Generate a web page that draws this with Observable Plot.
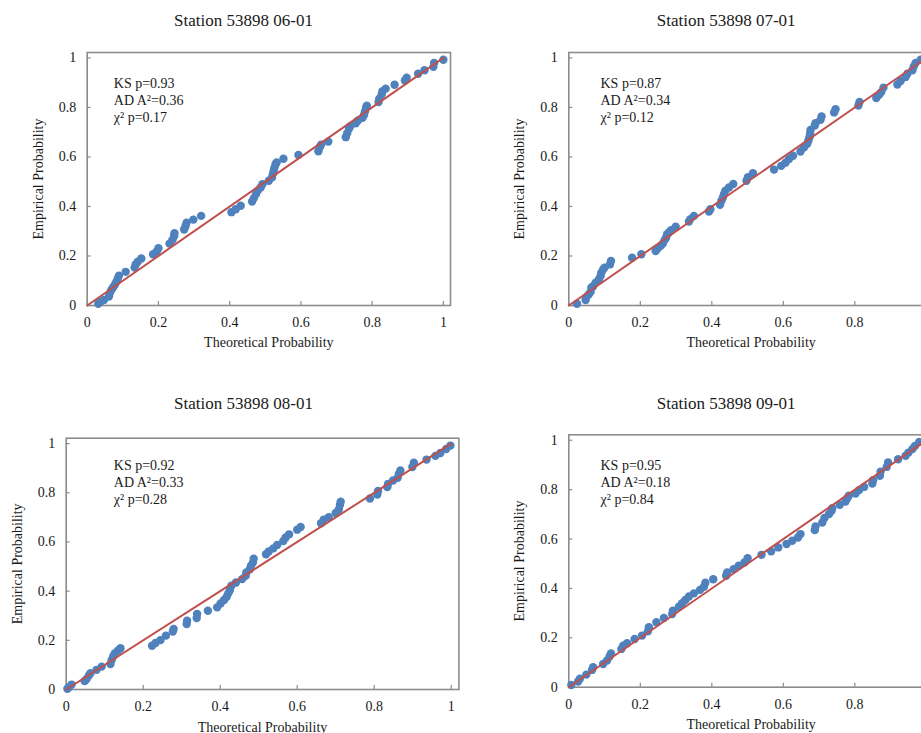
<!DOCTYPE html>
<html><head><meta charset="utf-8">
<script src="https://cdn.jsdelivr.net/npm/d3@7"></script>
<script src="https://cdn.jsdelivr.net/npm/@observablehq/plot@0.6"></script>
<style>
html,body{margin:0;padding:0;background:#fff;}
#root{position:relative;width:921px;height:733px;overflow:hidden;background:#fff;font-family:"Liberation Serif","Times New Roman",serif;}
#root svg{position:absolute;}
#root svg text{font-family:"Liberation Serif","Times New Roman",serif !important;}
</style></head><body><div id="root"></div>
<script>
// ---- data ----
const tickValues = [0, 0.2, 0.4, 0.6, 0.8, 1];
const refLine = [0, 1];
const titles = ["Station 53898 06-01", "Station 53898 07-01", "Station 53898 08-01", "Station 53898 09-01"];
const ksP = ["0.93", "0.87", "0.92", "0.95"];
const adA2 = ["0.36", "0.34", "0.33", "0.18"];
const chiP = ["0.17", "0.12", "0.28", "0.84"];
const xLabel = "Theoretical Probability";
const yLabel = "Empirical Probability";

const theo0601 = [0.031,0.037,0.047,0.061,0.064,0.068,0.073,0.078,0.082,0.086,0.089,0.108,0.133,0.136,0.142,0.152,0.185,0.195,0.2,0.231,0.239,0.244,0.245,0.272,0.276,0.279,0.298,0.32,0.405,0.417,0.431,0.463,0.468,0.474,0.479,0.487,0.492,0.51,0.519,0.522,0.524,0.526,0.529,0.532,0.551,0.593,0.649,0.653,0.657,0.677,0.726,0.73,0.735,0.738,0.754,0.76,0.773,0.777,0.78,0.783,0.785,0.818,0.82,0.827,0.829,0.838,0.863,0.892,0.897,0.929,0.947,0.972,0.974,1.0];
const emp0601 = [0.007,0.014,0.022,0.036,0.051,0.064,0.074,0.085,0.096,0.109,0.12,0.136,0.153,0.166,0.177,0.19,0.207,0.218,0.231,0.25,0.264,0.28,0.292,0.307,0.32,0.334,0.347,0.362,0.377,0.389,0.403,0.42,0.434,0.45,0.464,0.477,0.49,0.504,0.518,0.534,0.547,0.558,0.572,0.578,0.593,0.608,0.623,0.639,0.65,0.662,0.68,0.696,0.714,0.723,0.736,0.747,0.758,0.769,0.784,0.799,0.807,0.822,0.835,0.853,0.866,0.876,0.892,0.909,0.92,0.936,0.95,0.964,0.98,0.993];

const theo0701 = [0.023,0.047,0.049,0.056,0.061,0.063,0.068,0.075,0.084,0.089,0.091,0.096,0.1,0.115,0.118,0.177,0.203,0.243,0.249,0.257,0.263,0.268,0.272,0.275,0.28,0.286,0.299,0.336,0.34,0.35,0.392,0.396,0.423,0.427,0.431,0.434,0.438,0.448,0.46,0.497,0.501,0.515,0.574,0.594,0.606,0.616,0.627,0.648,0.658,0.667,0.67,0.673,0.675,0.676,0.688,0.69,0.704,0.707,0.742,0.746,0.81,0.813,0.86,0.868,0.874,0.88,0.919,0.928,0.942,0.947,0.961,0.965,0.97,0.984];
const emp0701 = [0.007,0.022,0.034,0.045,0.055,0.072,0.078,0.092,0.105,0.119,0.132,0.146,0.153,0.166,0.18,0.193,0.207,0.22,0.231,0.241,0.25,0.264,0.274,0.288,0.295,0.304,0.318,0.339,0.349,0.362,0.38,0.389,0.407,0.423,0.436,0.45,0.464,0.477,0.491,0.504,0.518,0.534,0.549,0.564,0.577,0.592,0.605,0.622,0.639,0.653,0.666,0.68,0.696,0.709,0.727,0.736,0.75,0.764,0.78,0.793,0.808,0.822,0.838,0.851,0.862,0.88,0.893,0.907,0.923,0.936,0.95,0.966,0.98,0.993];

const theo0801 = [0.003,0.007,0.014,0.048,0.053,0.059,0.063,0.079,0.092,0.115,0.118,0.122,0.126,0.134,0.141,0.223,0.232,0.245,0.259,0.277,0.279,0.313,0.314,0.339,0.34,0.368,0.392,0.401,0.41,0.417,0.421,0.425,0.429,0.441,0.457,0.466,0.468,0.477,0.48,0.485,0.487,0.519,0.526,0.538,0.548,0.564,0.57,0.579,0.6,0.609,0.662,0.669,0.682,0.7,0.708,0.711,0.713,0.789,0.808,0.81,0.834,0.836,0.849,0.861,0.864,0.868,0.899,0.903,0.936,0.959,0.972,0.987,0.998];
const emp0801 = [0.003,0.009,0.02,0.034,0.043,0.057,0.066,0.08,0.093,0.104,0.12,0.134,0.147,0.158,0.168,0.178,0.189,0.201,0.219,0.236,0.246,0.266,0.28,0.291,0.307,0.32,0.334,0.35,0.364,0.377,0.391,0.404,0.422,0.435,0.449,0.462,0.476,0.489,0.503,0.516,0.532,0.55,0.561,0.574,0.588,0.604,0.618,0.631,0.65,0.661,0.676,0.691,0.701,0.718,0.732,0.75,0.764,0.777,0.793,0.807,0.823,0.836,0.85,0.861,0.877,0.891,0.905,0.922,0.935,0.95,0.962,0.978,0.992];

const theo0901 = [0.007,0.026,0.031,0.049,0.065,0.068,0.096,0.107,0.114,0.118,0.147,0.152,0.163,0.184,0.205,0.221,0.224,0.245,0.266,0.289,0.291,0.308,0.317,0.326,0.336,0.35,0.367,0.378,0.382,0.404,0.44,0.443,0.461,0.475,0.491,0.5,0.539,0.566,0.586,0.609,0.625,0.641,0.648,0.688,0.69,0.709,0.715,0.728,0.735,0.737,0.758,0.774,0.779,0.783,0.802,0.812,0.826,0.849,0.851,0.87,0.872,0.889,0.893,0.921,0.942,0.95,0.961,0.968,0.98];
const emp0901 = [0.009,0.023,0.034,0.051,0.07,0.081,0.094,0.108,0.124,0.137,0.155,0.168,0.178,0.195,0.209,0.226,0.243,0.263,0.28,0.296,0.31,0.326,0.34,0.353,0.367,0.38,0.394,0.407,0.423,0.437,0.451,0.465,0.478,0.492,0.505,0.522,0.536,0.55,0.566,0.58,0.593,0.606,0.62,0.636,0.651,0.667,0.685,0.701,0.714,0.725,0.739,0.752,0.765,0.775,0.784,0.798,0.811,0.825,0.838,0.856,0.873,0.892,0.91,0.923,0.937,0.95,0.964,0.977,0.993];

const theoSeries = [theo0601, theo0701, theo0801, theo0901];
const empSeries = [emp0601, emp0701, emp0801, emp0901];

// ---- layout (pixels) ----
const layouts = [
  {left: 0,   top: 0,   width: 460, height: 365, ml: 86.7,  mt: 52,   mr: 10,   mb: 60,   tdx: 156.3, tdy: -32,   ndx: 26.6, ndy: 23,   ydx: -48.7, xdy: 37},
  {left: 460, top: 0,   width: 480, height: 365, ml: 108.3, mt: 52,   mr: 7,    mb: 60,   tdx: 157.4, tdy: -32,   ndx: 31.7, ndy: 23,   ydx: -49.3, xdy: 37},
  {left: 0,   top: 380, width: 470, height: 360, ml: 65.7,  mt: 57.7, mr: 11.6, mb: 51,   tdx: 177.3, tdy: -35,   ndx: 47.6, ndy: 20,   ydx: -48.7, xdy: 37.7},
  {left: 460, top: 380, width: 480, height: 360, ml: 108.3, mt: 54.3, mr: 7,    mb: 53.3, tdx: 157.4, tdy: -31.3, ndx: 31.7, ndy: 23.4, ydx: -49.3, xdy: 37.3}
];

const FONT = '"Liberation Serif", "Times New Roman", serif';
const GRAY = "#8c8c8c";
const BLUE = "#4F81BD";
const RED = "#C0504D";
const INK = "#1a1a1a";

const root = document.getElementById("root");

layouts.forEach((L, i) => {
  const pts = theoSeries[i].map((x, j) => ({x, y: empSeries[i][j]}));
  const innerW = L.width - L.ml - L.mr;
  const innerH = L.height - L.mt - L.mb;
  const note = `KS p=${ksP[i]}\nAD A²=${adA2[i]}\nχ² p=${chiP[i]}`;
  const txt = {fontFamily: FONT, fill: INK};
  const svg = Plot.plot({
    width: L.width, height: L.height,
    marginLeft: L.ml, marginRight: L.mr, marginTop: L.mt, marginBottom: L.mb,
    style: {fontFamily: FONT, fontSize: "14px", color: INK, background: "transparent", overflow: "visible"},
    x: {domain: [0, 1.02]},
    y: {domain: [0, 1.022]},
    marks: [
      Plot.frame({stroke: GRAY, strokeWidth: 1.6}),
      Plot.tickX(tickValues, {x: d => d, stroke: GRAY, strokeWidth: 1.2, insetTop: innerH - 4}),
      Plot.tickY(tickValues, {y: d => d, stroke: GRAY, strokeWidth: 1.2, insetRight: innerW - 4}),
      Plot.axisX(tickValues, {tickSize: 0, tickPadding: 12, tickFormat: d => String(d), label: null, fontSize: 14, ...txt}),
      Plot.axisY(tickValues, {tickSize: 0, tickPadding: 11, tickFormat: d => String(d), label: null, fontSize: 14, ...txt}),
      Plot.dot(pts, {x: "x", y: "y", r: 4.2, fill: BLUE, stroke: "none"}),
      Plot.line(refLine, {x: d => d, y: d => d, stroke: RED, strokeWidth: 2}),
      Plot.text([note], {frameAnchor: "top-left", dx: L.ndx, dy: L.ndy, textAnchor: "start", lineAnchor: "top", lineHeight: 1.214, fontSize: 14, ...txt}),
      Plot.text([titles[i]], {frameAnchor: "top-left", dx: L.tdx, dy: L.tdy, textAnchor: "middle", lineAnchor: "middle", fontSize: 17, ...txt}),
      Plot.text([xLabel], {frameAnchor: "bottom", dy: L.xdy, textAnchor: "middle", lineAnchor: "middle", fontSize: 14, ...txt}),
      Plot.text([yLabel], {frameAnchor: "left", dx: L.ydx, rotate: -90, textAnchor: "middle", lineAnchor: "middle", fontSize: 14, ...txt})
    ]
  });
  svg.style.left = L.left + "px";
  svg.style.top = L.top + "px";
  root.appendChild(svg);
});
</script></body></html>
